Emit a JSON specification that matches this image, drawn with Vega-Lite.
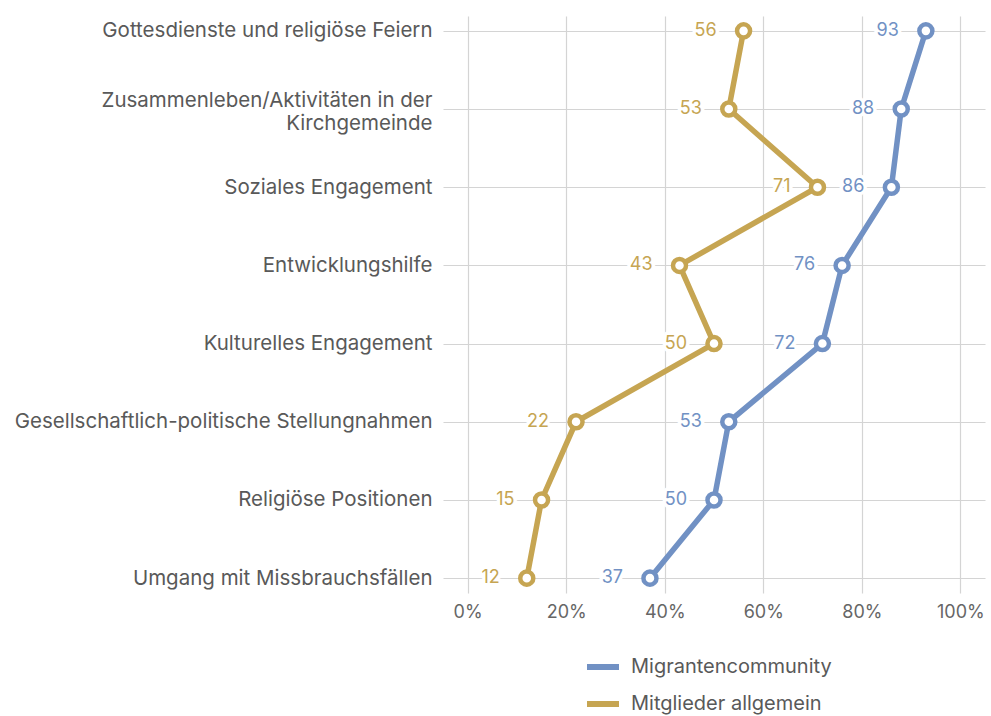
{
  "$schema": "https://vega.github.io/schema/vega-lite/v6.json",
  "width": 542,
  "height": 577,
  "autosize": {"type": "none"},
  "padding": {"left": 443, "top": 16, "right": 6, "bottom": 123},
  "background": "white",
  "config": {
    "view": {"stroke": null},
    "font": "Inter",
    "axis": {"gridColor": "#d4d4d4", "gridWidth": 1.2, "domain": false, "ticks": false}
  },
  "data": {
    "values": [
      {"kategorie": "Gottesdienste und religiöse Feiern", "gruppe": "Migrantencommunity", "wert": 93, "i": 1},
      {"kategorie": "Zusammenleben/Aktivitäten in der Kirchgemeinde", "gruppe": "Migrantencommunity", "wert": 88, "i": 2},
      {"kategorie": "Soziales Engagement", "gruppe": "Migrantencommunity", "wert": 86, "i": 3},
      {"kategorie": "Entwicklungshilfe", "gruppe": "Migrantencommunity", "wert": 76, "i": 4},
      {"kategorie": "Kulturelles Engagement", "gruppe": "Migrantencommunity", "wert": 72, "i": 5},
      {"kategorie": "Gesellschaftlich-politische Stellungnahmen", "gruppe": "Migrantencommunity", "wert": 53, "i": 6},
      {"kategorie": "Religiöse Positionen", "gruppe": "Migrantencommunity", "wert": 50, "i": 7},
      {"kategorie": "Umgang mit Missbrauchsfällen", "gruppe": "Migrantencommunity", "wert": 37, "i": 8},
      {"kategorie": "Gottesdienste und religiöse Feiern", "gruppe": "Mitglieder allgemein", "wert": 56, "i": 1},
      {"kategorie": "Zusammenleben/Aktivitäten in der Kirchgemeinde", "gruppe": "Mitglieder allgemein", "wert": 53, "i": 2},
      {"kategorie": "Soziales Engagement", "gruppe": "Mitglieder allgemein", "wert": 71, "i": 3},
      {"kategorie": "Entwicklungshilfe", "gruppe": "Mitglieder allgemein", "wert": 43, "i": 4},
      {"kategorie": "Kulturelles Engagement", "gruppe": "Mitglieder allgemein", "wert": 50, "i": 5},
      {"kategorie": "Gesellschaftlich-politische Stellungnahmen", "gruppe": "Mitglieder allgemein", "wert": 22, "i": 6},
      {"kategorie": "Religiöse Positionen", "gruppe": "Mitglieder allgemein", "wert": 15, "i": 7},
      {"kategorie": "Umgang mit Missbrauchsfällen", "gruppe": "Mitglieder allgemein", "wert": 12, "i": 8}
    ]
  },
  "encoding": {
    "x": {
      "field": "wert", "type": "quantitative",
      "scale": {"domain": [-5, 105], "nice": false, "zero": false},
      "axis": {"values": [0, 20, 40, 60, 80, 100], "labelExpr": "datum.value + '%'", "title": null,
               "labelFontSize": 18, "labelColor": "#666666", "labelPadding": 10, "grid": true}
    },
    "y": {
      "field": "kategorie", "type": "nominal",
      "sort": ["Gottesdienste und religiöse Feiern", "Zusammenleben/Aktivitäten in der Kirchgemeinde", "Soziales Engagement", "Entwicklungshilfe", "Kulturelles Engagement", "Gesellschaftlich-politische Stellungnahmen", "Religiöse Positionen", "Umgang mit Missbrauchsfällen"],
      "scale": {"type": "point", "padding": 0.19},
      "axis": {"title": null, "grid": true, "labelFontSize": 20.5, "labelColor": "#595959", "labelPadding": 11,
               "labelLimit": 600, "labelLineHeight": 23,
               "labelOffset": {"condition": {"test": "datum.value == 'Zusammenleben/Aktivitäten in der Kirchgemeinde'", "value": -9}, "value": 0},
               "labelExpr": "datum.value == 'Zusammenleben/Aktivitäten in der Kirchgemeinde' ? ['Zusammenleben/Aktivitäten in der', 'Kirchgemeinde'] : datum.value"}
    },
    "color": {
      "field": "gruppe", "type": "nominal",
      "scale": {"domain": ["Migrantencommunity", "Mitglieder allgemein"], "range": ["#7191c4", "#c6a552"]},
      "legend": {"title": null, "orient": "none", "legendX": 141, "legendY": 632, "direction": "vertical",
                 "symbolType": "stroke", "symbolSize": 1024, "symbolStrokeWidth": 6, "labelLimit": 500,
                 "labelFontSize": 20, "labelColor": "#595959", "labelOffset": 9, "rowPadding": 6}
    }
  },
  "layer": [
    {"mark": {"type": "line", "strokeWidth": 5.5}, "encoding": {"order": {"field": "i", "type": "quantitative"}}},
    {"mark": {"type": "point", "filled": false, "fill": "white", "fillOpacity": 1, "size": 170, "strokeWidth": 4.5, "opacity": 1}},
    {"mark": {"type": "text", "align": "right", "baseline": "middle", "dx": -27, "fontSize": 18, "stroke": "white", "strokeWidth": 7, "strokeJoin": "round"},
     "encoding": {"text": {"field": "wert"}, "color": {"value": "white"}}},
    {"mark": {"type": "text", "align": "right", "baseline": "middle", "dx": -27, "fontSize": 18},
     "encoding": {"text": {"field": "wert"}}}
  ]
}
